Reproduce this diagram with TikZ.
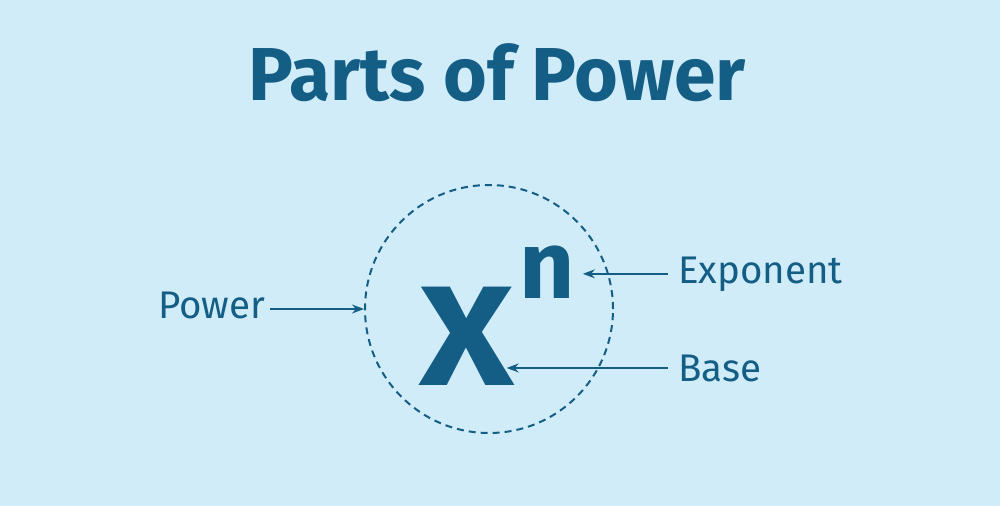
\documentclass[tikz,border=0pt]{standalone}
\usepackage{fontspec}
\setmainfont{Fira Sans}
\usetikzlibrary{arrows.meta}
\definecolor{ink}{HTML}{145E85}
\definecolor{sky}{HTML}{D0ECF8}
\tikzset{
  label text/.style={text=ink, inner sep=0pt, font=\fontsize{38.5}{38.5}\selectfont},
  pointer/.style={draw=ink, line width=1.5pt, -{Stealth[length=12pt, width=9pt]}}
}
\begin{document}
\begin{tikzpicture}[x=1pt, y=-1pt]
  \fill[sky] (0,0) rectangle (1000,506);
  \node[text=ink, inner sep=0pt, anchor=base, font=\fontsize{75}{75}\selectfont\bfseries] (title) at (497,100) {Parts of Power};
  \node[circle, draw=ink, line width=2pt, dash pattern=on 7pt off 5pt, minimum size=248pt, inner sep=0pt] (ring) at (489,309) {};
  \node[text=ink, inner sep=0pt, anchor=base, xscale=1.15, font=\fontsize{142}{142}\selectfont\bfseries] (X) at (467,385) {X};
  \node[text=ink, inner sep=0pt, anchor=base, font=\fontsize{96}{96}\selectfont\bfseries] (n) at (547,298) {n};
  \foreach \name/\txt/\x/\y in {power/Power/158/318, exponent/Exponent/678/283, base/Base/678/381}
    \node[label text, anchor=base west] (\name) at (\x,\y) {\txt};
  \draw[pointer] ([xshift=4pt]power.east |- ring.center) -- (ring.west);
  \draw[pointer] ([xshift=-10pt]exponent.west) -- ([xshift=8pt]n.east |- exponent.west);
  \draw[pointer] ([xshift=-10pt]base.west) -- ([xshift=-8pt]X.east |- base.west);
\end{tikzpicture}
\end{document}
